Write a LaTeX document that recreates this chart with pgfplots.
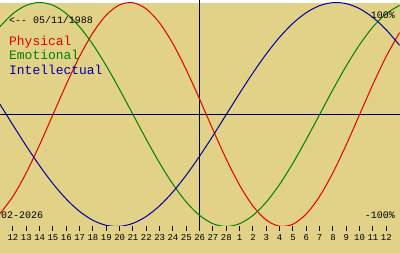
\documentclass[border=0pt]{standalone}
\usepackage{pgfplots}
\pgfplotsset{compat=1.18}
\usepackage{fontspec}
\setmainfont{Liberation Mono}
\definecolor{bg}{RGB}{225,210,135}
\definecolor{pred}{RGB}{225,0,0}
\definecolor{egreen}{RGB}{0,128,0}
\definecolor{iblue}{RGB}{0,0,160}
\begin{document}
\begin{tikzpicture}[x=1bp,y=1bp]
\fill[bg] (0,0) rectangle (400,250);
\begin{axis}[at={(0,24)}, anchor=south west, scale only axis,
  width=400bp, height=226bp,
  xmin=-0.975, xmax=29.03, ymin=-0.9955, ymax=1.0223,
  axis line style={draw=none}, ytick=\empty,
  xtick={0,1,2,3,4,5,6,7,8,9,10,11,12,13,14,15,16,17,18,19,20,21,22,23,24,25,26,27,28},
  xticklabels={12,13,14,15,16,17,18,19,20,21,22,23,24,25,26,27,28,1,2,3,4,5,6,7,8,9,10,11,12},
  xtick pos=bottom, tick align=outside, major tick length=5bp,
  tick style={black, line width=1bp},
  xticklabel style={font=\fontsize{9}{9}\selectfont, inner sep=1bp, yshift=-2bp},
  /pgf/number format/assume math mode=true,
  clip=true]
\addplot[black, line width=1bp] coordinates {(-2,0) (31,0)};
\addplot[black, line width=1bp] coordinates {(14,-1.2) (14,1.2)};
% Physical (23 days)
\addplot[pred, line width=1bp, smooth, no marks] coordinates {
(-1,-0.8879) (0,-0.7308) (1,-0.5196) (2,-0.2698) (3,0) (4,0.2698) (5,0.5196) (6,0.7308)
(7,0.8879) (8,0.9791) (9,0.9977) (10,0.9423) (11,0.8170) (12,0.6311) (13,0.3984) (14,0.1362)
(15,-0.1362) (16,-0.3984) (17,-0.6311) (18,-0.8170) (19,-0.9423) (20,-0.9977) (21,-0.9791)
(22,-0.8879) (23,-0.7308) (24,-0.5196) (25,-0.2698) (26,0) (27,0.2698) (28,0.5196) (29,0.7308)};
% Emotional (28 days)
\addplot[egreen, line width=1bp, smooth, no marks] coordinates {
(-1,0.7818) (0,0.9010) (1,0.9749) (2,1) (3,0.9749) (4,0.9010) (5,0.7818) (6,0.6235)
(7,0.4339) (8,0.2225) (9,0) (10,-0.2225) (11,-0.4339) (12,-0.6235) (13,-0.7818) (14,-0.9010)
(15,-0.9749) (16,-1) (17,-0.9749) (18,-0.9010) (19,-0.7818) (20,-0.6235) (21,-0.4339)
(22,-0.2225) (23,0) (24,0.2225) (25,0.4339) (26,0.6235) (27,0.7818) (28,0.9010) (29,0.9749)};
% Intellectual (33 days)
\addplot[iblue, line width=1bp, smooth, no marks] coordinates {
(-1,0.0951) (0,-0.0951) (1,-0.2817) (2,-0.4582) (3,-0.6182) (4,-0.7557) (5,-0.8660) (6,-0.9450)
(7,-0.9898) (8,-0.9989) (9,-0.9718) (10,-0.9096) (11,-0.8146) (12,-0.6901) (13,-0.5406)
(14,-0.3717) (15,-0.1893) (16,0) (17,0.1893) (18,0.3717) (19,0.5406) (20,0.6901) (21,0.8146)
(22,0.9096) (23,0.9718) (24,0.9989) (25,0.9898) (26,0.9450) (27,0.8660) (28,0.7557) (29,0.6182)};
\end{axis}
\node[anchor=base west, inner sep=0pt, font=\fontsize{10}{10}\selectfont] at (9,229.3) {<-{}- 05/11/1988};
\node[anchor=base west, inner sep=0pt, font=\fontsize{13}{13}\selectfont, text=pred] at (9,207.5) {Physical};
\node[anchor=base west, inner sep=0pt, font=\fontsize{13}{13}\selectfont, text=egreen] at (9,193.3) {Emotional};
\node[anchor=base west, inner sep=0pt, font=\fontsize{13}{13}\selectfont, text=iblue] at (9,178.3) {Intellectual};
\node[anchor=base east, inner sep=0pt, font=\fontsize{10}{10}\selectfont] at (395,234) {100\%};
\node[anchor=base east, inner sep=0pt, font=\fontsize{10}{10}\selectfont] at (395,34) {-100\%};
\node[anchor=base west, inner sep=0pt, font=\fontsize{10}{10}\selectfont] at (1,34) {02-2026};
\end{tikzpicture}
\end{document}
